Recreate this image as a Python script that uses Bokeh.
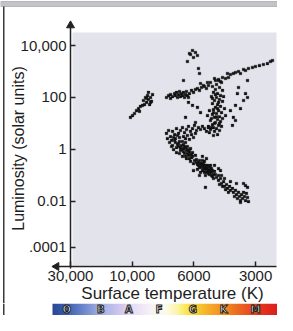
import numpy as np
from bokeh.plotting import figure
from bokeh.models import (Range1d, FixedTicker, CustomJSTickFormatter, BoxAnnotation,
                          Label, ColumnDataSource)
from bokeh.layouts import column
from bokeh.embed import file_html
from bokeh.resources import INLINE
from bokeh.core.properties import value

# ---------------- data (surface temperature K, luminosity in solar units) ----------------
supergiant_T = [6225, 6070, 5895, 5765, 6020, 6330, 6170, 5700, 5635, 6540,
                4205, 4070, 4115, 3980, 3850, 3760, 3635, 3555, 3435, 3360, 3250, 3107,
                3004, 2872, 2747, 2626, 2538, 2482]
supergiant_L = [4920, 6410, 5370, 4120, 3450, 2420, 4500, 1300, 834, 448,
                535, 585, 834, 763, 834, 912, 996, 834, 1190, 1090, 1300, 1420,
                1550, 1690, 1850, 2020, 2420, 2640]

giant_band_T = [5570, 5390, 5150, 4980, 4710, 4550, 4350, 4450,
                7400, 7280, 7160, 7040, 6990, 6930, 6870, 6815, 6760, 6705, 6650, 6595,
                6540, 6485, 6430, 6380, 6330, 6225, 6120, 6020, 5895, 5765, 5635, 5510,
                5330, 5210, 5095, 7530, 7280, 6275]
giant_band_L = [343, 288, 375, 375, 448, 490, 585, 410,
                118, 129, 108, 141, 118, 155, 99, 129, 169, 108, 141, 118,
                155, 99, 129, 169, 118, 141, 185, 155, 202, 220, 185, 241,
                263, 220, 288, 99, 91, 99]

blue_giant_T = [9110, 8960, 8880, 8810, 8740, 8660, 8590, 8520, 8450, 9030, 8740, 8880, 8590,
                9975, 9810, 9650, 9490, 9340, 9415, 9180, 10310]
blue_giant_L = [76, 99, 64, 118, 83, 53, 99, 70, 129, 53, 155, 91, 64,
                20, 24, 31, 37, 45, 29, 49, 17]

scattered_T = [3285, 3635, 3360, 3285, 3680, 3760, 3555, 3850, 3760, 3890, 3435, 3980,
               6275, 5765, 6430, 5895, 6070, 5570]
scattered_L = [448, 241, 141, 99, 141, 49, 37, 17, 12.9, 8.3, 76, 31,
               64, 41, 17, 10.8, 49, 26]

red_giant_T = [4760, 4550, 4400, 4655, 4870, 4500, 4710, 4350, 4815, 4600,
               4450, 4925, 4655, 4500, 4760, 4350, 4870, 4600, 4450, 4710,
               4815, 4550, 4400, 4655, 4870, 4500, 4760, 4600, 4980, 4450,
               4710, 4870, 4550, 4815, 4655, 4980, 4500, 4760, 5095, 4255,
               4300, 5040, 4925, 4400, 4600, 4815, 4205, 5150,
               4710, 4550, 4815, 4655, 4500, 4925, 4760, 4600, 4350, 4870]
red_giant_L = [535, 448, 375, 314, 263, 241, 202, 185, 155, 141,
               118, 108, 99, 83, 76, 70, 58, 53, 45, 41,
               34, 31, 26, 24, 22, 18, 17, 14.1, 12.9, 11.8,
               10.8, 9.0, 8.3, 6.9, 6.3, 5.8, 5.3, 4.9, 7.6, 37,
               108, 31, 15.4, 7.6, 3.7, 3.4, 20, 20,
               129, 64, 26, 18, 9.9, 6.9, 9.9, 37, 15.4, 91]

subgiant_T = [7530, 7400, 7280, 7160, 7040, 6930, 6815, 6705, 6595, 6485,
              6380, 6275, 6170, 6070, 5960, 5830, 5700, 5570, 5450, 5330,
              5210, 5095, 5040, 7470, 7220, 6990, 6760, 6540, 6330, 6120, 5895,
              7100, 6870, 6430, 6225, 6020]
subgiant_L = [4.1, 5.3, 3.1, 4.9, 3.7, 6.3, 4.1, 5.3, 6.9, 4.4,
              5.8, 7.6, 4.9, 6.3, 8.3, 5.3, 6.9, 5.8, 7.6, 6.3,
              4.9, 6.9, 4.4, 2.6, 2.2, 2.6, 2.85, 3.1, 3.4, 3.7, 4.1,
              2.85, 3.4, 2.6, 2.4, 2.85]

ms_upper_T = [7340, 7160, 7040, 6930, 6815, 6705, 6650, 6540, 6485, 6430, 6380, 6330,
              6275, 6225, 6170, 6120, 6595, 6760, 6930, 7100, 6380, 6070, 5960, 5895,
              6020, 6170, 6595, 6870, 6485, 6275, 6330, 6430, 6225, 6120, 6705, 7220,
              6990, 6815, 6650, 6540, 6430, 6330, 6225, 6070, 6540, 6760]
ms_upper_L = [1.83, 1.40, 2.2, 1.17, 1.67, 0.90, 1.40, 1.07, 0.69, 1.83, 0.90, 1.28,
              0.58, 0.82, 1.07, 0.48, 0.53, 0.69, 0.75, 0.98, 0.44, 0.75, 0.37, 0.58,
              0.28, 0.34, 2.0, 1.53, 1.28, 0.90, 0.69, 0.53, 0.44, 0.63, 1.17, 1.28,
              1.83, 1.28, 0.98, 0.82, 1.17, 0.98, 0.63, 0.53, 1.53, 2.0]

ms_middle_T = [5830, 5700, 5635, 5570, 5510, 5450, 5390, 5330, 5270, 5210, 5150, 5095,
               5040, 4980, 4925, 4870, 5765, 5570, 5270, 4760, 4815, 4710, 4655, 4550,
               4980, 5210, 5450, 5390, 5270, 5150, 5040, 5330, 5095, 4925, 5700,
               5765, 5635, 5510, 5390, 5330, 5210, 5150, 5040, 4980, 4870, 4815, 4925,
               5450, 5570, 5830]
ms_middle_L = [0.31, 0.24, 0.37, 0.20, 0.28, 0.152, 0.22, 0.34, 0.18, 0.128, 0.24, 0.152,
               0.107, 0.18, 0.128, 0.090, 0.167, 0.128, 0.098, 0.140, 0.075, 0.107, 0.082, 0.098,
               0.24, 0.44, 0.53, 0.28, 0.24, 0.18, 0.14, 0.167, 0.117, 0.18, 0.31,
               0.26, 0.20, 0.24, 0.18, 0.128, 0.20, 0.152, 0.22, 0.14, 0.152, 0.107, 0.098,
               0.37, 0.28, 0.40]

ms_lower_T = [4550, 4450, 4400, 4300, 4255, 4160, 4115, 4020, 3980, 3890,
              3850, 3760, 3720, 3635, 3595, 3515, 3475, 3400, 3360, 3285,
              3555, 3680, 3805, 4070, 4205, 4350, 4500, 3435, 3325, 3250]
ms_lower_L = [0.063, 0.075, 0.048, 0.057, 0.037, 0.044, 0.031, 0.037, 0.026, 0.031,
              0.022, 0.026, 0.018, 0.022, 0.0152, 0.018, 0.0127, 0.0152, 0.0106, 0.0139,
              0.0106, 0.0127, 0.0152, 0.022, 0.028, 0.037, 0.044, 0.022, 0.020, 0.0097]

ms_scatter_T = [4760, 4550, 4450, 4400, 4255, 3360, 3435, 3720, 3980, 5635, 6020, 5270, 3285, 3555]
ms_scatter_L = [0.24, 0.18, 0.152, 0.098, 0.075, 0.040, 0.048, 0.048, 0.057, 0.098, 0.152,
                0.034, 0.034, 0.0089]

# axis ticks
x_tick_temps = [30000, 10000, 6000, 3000]
x_tick_labels = ["30,000", "10,000", "6000", "3000"]
y_tick_values = [1e4, 1e2, 1.0, 1e-2, 10 ** -3.773]
y_tick_labels = ["10,000", "100", "1", "0.01", ".0001"]

spectral_classes = ["O", "B", "A", "F", "G", "K", "M"]
spectral_temps = [32000, 17500, 10600, 8000, 6050, 4300, 3000]


# temperature scale of the chart: equal spacing between the labelled temperatures
def temp_pos(T):
    lt = np.log10(np.asarray(T, dtype=float))
    a = np.log10(np.asarray(x_tick_temps, dtype=float))
    idx = np.clip(np.searchsorted(-a, -lt) - 1, 0, len(a) - 2)
    return idx + (a[idx] - lt) / (a[idx] - a[idx + 1])


# ---------------- geometry ----------------
W, H_MAIN, H_BAR = 277, 303, 12
PX_PER_POS = 61.7
PX_PER_DEC = 25.95
X0 = 70      # canvas x of the 30,000 mark / y axis
Y1E4 = 45    # canvas y of the 10,000 mark


def px_pos(x):
    return (x - X0) / PX_PER_POS


def py_lum(y):
    return 10 ** (4 - (y - Y1E4) / PX_PER_DEC)


FONT = "Liberation Sans"
TXT = "#1e1e1e"
AX = "#222222"
FRAME = "#3a3a3a"

p = figure(width=W, height=H_MAIN, output_backend="svg", toolbar_location=None,
           y_axis_type="log",
           x_range=Range1d(px_pos(0), px_pos(W)),
           y_range=Range1d(py_lum(H_MAIN), py_lum(0)),
           min_border=0, min_border_left=0, min_border_right=0,
           min_border_top=0, min_border_bottom=0)
p.outline_line_color = None
p.background_fill_color = "white"
p.border_fill_color = "white"
p.grid.visible = False

# page frame: top rule and left rule
p.add_layout(BoxAnnotation(top=py_lum(1), bottom=py_lum(6), fill_color="#c4c4c8",
                           fill_alpha=1.0, line_color="#555555", line_width=1.2))
p.add_layout(BoxAnnotation(left=px_pos(2.5), right=px_pos(4), top=py_lum(6),
                           fill_color=FRAME, fill_alpha=1.0, line_color=None))

# plotting panel background
p.add_layout(BoxAnnotation(left=px_pos(72), right=px_pos(276),
                           top=py_lum(32), bottom=py_lum(265),
                           fill_color="#e3e3eb", fill_alpha=1.0, line_color=None,
                           level="underlay"))

x_axis_y = py_lum(266)

# y axis
ya = p.yaxis[0]
ya.fixed_location = 0.0
ya.bounds = (py_lum(268), py_lum(24))
ya.ticker = FixedTicker(ticks=y_tick_values, minor_ticks=[])
ya.formatter = CustomJSTickFormatter(args=dict(vals=y_tick_values, labs=y_tick_labels), code="""
    let best = 0;
    for (let i = 0; i < vals.length; i++) {
        if (Math.abs(Math.log(vals[i]) - Math.log(tick)) < Math.abs(Math.log(vals[best]) - Math.log(tick))) best = i;
    }
    return labs[best];
""")
ya.major_tick_in = 5
ya.major_tick_out = 0
ya.minor_tick_in = 0
ya.minor_tick_out = 0
ya.major_label_standoff = 4
ya.axis_line_color = AX
ya.axis_line_width = 1.5
ya.major_tick_line_color = AX
ya.major_tick_line_width = 1.5
ya.major_label_text_font = FONT
ya.major_label_text_font_size = "15px"
ya.major_label_text_color = TXT

# x axis
xa = p.xaxis[0]
xa.fixed_location = x_axis_y
xa.bounds = (px_pos(55), px_pos(276))
x_tick_pos = [float(v) for v in temp_pos(x_tick_temps)]
xa.ticker = FixedTicker(ticks=x_tick_pos, minor_ticks=[])
xa.formatter = CustomJSTickFormatter(args=dict(vals=x_tick_pos, labs=x_tick_labels), code="""
    let best = 0;
    for (let i = 0; i < vals.length; i++) {
        if (Math.abs(vals[i] - tick) < Math.abs(vals[best] - tick)) best = i;
    }
    return labs[best];
""")
xa.major_tick_in = 5
xa.major_tick_out = 0
xa.minor_tick_in = 0
xa.minor_tick_out = 0
xa.major_label_standoff = 4
xa.axis_line_color = AX
xa.axis_line_width = 1.5
xa.major_tick_line_color = AX
xa.major_tick_line_width = 1.5
xa.major_label_text_font = FONT
xa.major_label_text_font_size = "15px"
xa.major_label_text_color = TXT

# arrow heads
p.scatter(x=[0.0], y=[py_lum(25)], marker="triangle", size=8, color=AX)
p.scatter(x=[px_pos(56)], y=[x_axis_y], marker="triangle", angle=np.pi / 2, size=8, color=AX)

# titles
p.add_layout(Label(x=px_pos(18), y=py_lum(148), text="Luminosity (solar units)",
                   angle=np.pi / 2, text_align="center", text_baseline="middle",
                   text_font=FONT, text_font_size="16px", text_color=TXT))
p.add_layout(Label(x=px_pos(172), y=py_lum(293), text="Surface temperature (K)",
                   text_align="center", text_baseline="middle",
                   text_font=FONT, text_font_size="17px", text_color=TXT))

# stars
all_T = (supergiant_T + giant_band_T + blue_giant_T + scattered_T + red_giant_T +
         subgiant_T + ms_upper_T + ms_middle_T + ms_lower_T + ms_scatter_T)
all_L = (supergiant_L + giant_band_L + blue_giant_L + scattered_L + red_giant_L +
         subgiant_L + ms_upper_L + ms_middle_L + ms_lower_L + ms_scatter_L)
src = ColumnDataSource(dict(x=temp_pos(all_T), y=all_L))
p.scatter(x="x", y="y", source=src, marker="square", size=2.7,
          fill_color="#111111", line_color="#111111", line_width=0.3)

# ---------------- spectral class bar ----------------
bar = figure(width=W, height=H_BAR, output_backend="svg", toolbar_location=None,
             x_range=Range1d(px_pos(0), px_pos(W)), y_range=Range1d(0, 1),
             min_border=0, min_border_left=0, min_border_right=0,
             min_border_top=0, min_border_bottom=0)
bar.axis.visible = False
bar.grid.visible = False
bar.outline_line_color = None
bar.background_fill_color = "white"
bar.border_fill_color = "white"
bar.add_layout(BoxAnnotation(left=px_pos(2.5), right=px_pos(4),
                             fill_color=FRAME, fill_alpha=1.0, line_color=None))

stop_f = [0.0, 0.058, 0.124, 0.212, 0.30, 0.367, 0.434, 0.50, 0.553, 0.593, 0.633,
          0.70, 0.765, 0.832, 0.912, 1.0]
stop_c = ["#2a4898", "#3a5cae", "#6680c8", "#a4b0e4", "#d0c8f0", "#eae0f6", "#f6f2f6",
          "#fcfcec", "#fcf4a8", "#fae850", "#f8d034", "#f6a828", "#f08a22", "#ec6420",
          "#e43a1e", "#de1c1a"]
N = 226
f = np.linspace(0, 1, N)
rgb = np.array([[int(c[i:i + 2], 16) for i in (1, 3, 5)] for c in stop_c], dtype=float)
img = np.zeros((1, N), dtype=np.uint32)
view = img.view(dtype=np.uint8).reshape((1, N, 4))
for k in range(3):
    view[0, :, k] = np.interp(f, stop_f, rgb[:, k]).astype(np.uint8)
view[0, :, 3] = 255
bar.image_rgba(image=[img], x=px_pos(52), y=0, dw=px_pos(278) - px_pos(52), dh=1)

bar.text(x=temp_pos(spectral_temps), y=[0.5] * len(spectral_classes), text=spectral_classes,
         text_align="center", text_baseline="middle",
         text_font=value("DejaVu Sans"), text_font_style="bold", text_font_size="10px",
         text_color="white", text_outline_color="#1a1a1a")

layout = column(p, bar, spacing=0)
open("out.html", "w").write(file_html(layout, INLINE))
